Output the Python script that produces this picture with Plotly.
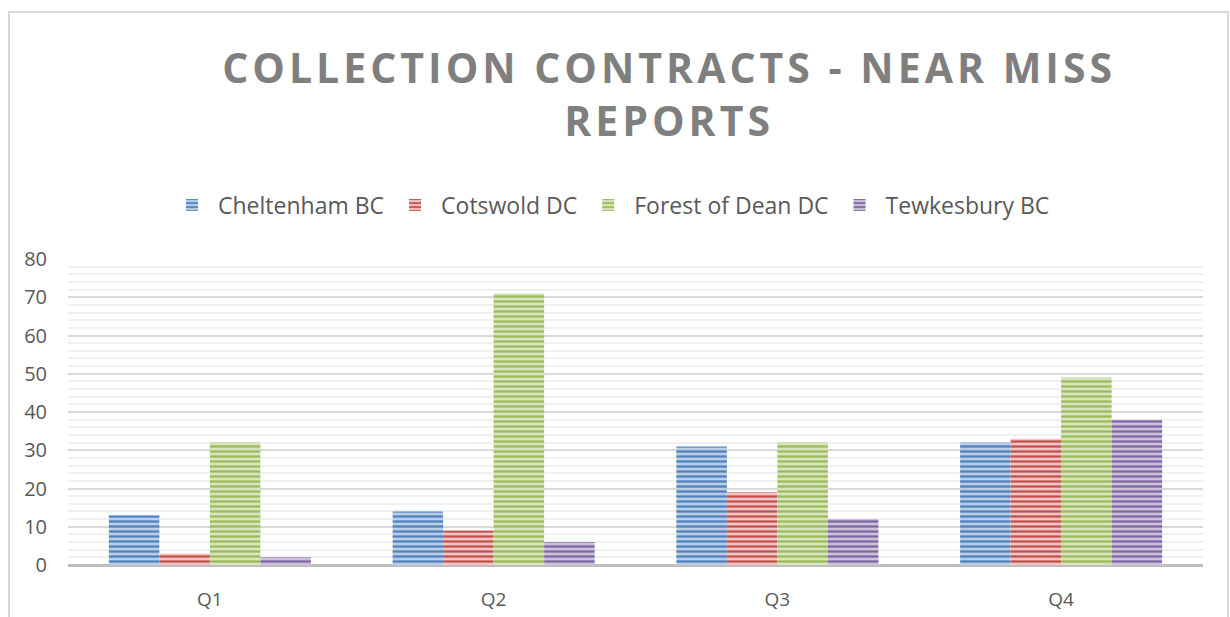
import plotly.graph_objects as go

quarters = ['Q1', 'Q2', 'Q3', 'Q4']
cheltenham = [13, 14, 31, 32]
cotswold = [3, 9, 19, 33]
forest_of_dean = [32, 71, 32, 49]
tewkesbury = [2, 6, 12, 38]

series = [
    ('Cheltenham BC', cheltenham, '#4f81bd', '#b9cde5'),
    ('Cotswold DC', cotswold, '#c0504d', '#f2c4c3'),
    ('Forest of Dean DC', forest_of_dean, '#9bbb59', '#d7e4bd'),
    ('Tewkesbury BC', tewkesbury, '#8064a2', '#ccc1da'),
]

fig = go.Figure()
for name, vals, dark, light in series:
    fig.add_trace(go.Bar(
        x=quarters, y=vals, name=name,
        marker=dict(color=light, line=dict(width=0),
                    pattern=dict(shape='-', fgcolor=dark, bgcolor=light,
                                 size=5, solidity=0.45, fillmode='replace')),
    ))

title_txt = ('<span style="letter-spacing:4px">COLLECTION CONTRACTS - NEAR MISS</span><br>'
             '<span style="letter-spacing:4px">REPORTS</span>')

fig.update_layout(
    width=1230, height=617,
    paper_bgcolor='white', plot_bgcolor='white',
    margin=dict(l=68, r=27, t=259, b=52, autoexpand=False),
    barmode='group', bargap=0.288, bargroupgap=0,
    title=dict(text=title_txt, automargin=False,
               x=0.544, xanchor='center', y=0.866, yanchor='top',
               font=dict(family='Open Sans', size=41, color='#7f7f7f', weight='bold')),
    legend=dict(orientation='h', x=0.478, xanchor='center', y=1.176, yanchor='middle',
                font=dict(family='Open Sans', size=23, color='#595959'),
                itemwidth=42, traceorder='normal'),
    font=dict(family='Open Sans', color='#595959'),
    xaxis=dict(showgrid=False, ticks='', tickfont=dict(size=19, color='#595959'),
               showline=False, automargin=False, ticklabelstandoff=21),
    yaxis=dict(range=[0, 80], dtick=10, showgrid=True, gridcolor='#d9d9d9', gridwidth=2,
               tickfont=dict(size=20, color='#595959'), zeroline=True, automargin=False,
               zerolinecolor='#bfbfbf', zerolinewidth=3, ticklabelstandoff=20,
               minor=dict(dtick=2, showgrid=True, gridcolor='#f0f0f0', gridwidth=2)),
    shapes=[dict(type='rect', xref='paper', yref='paper', x0=-0.052, x1=1.022,
                 y0=-0.3, y1=1.807, line=dict(color='#d9d9d9', width=2), layer='below')],
)

fig.write_html('out.html', config={'displayModeBar': False},
               post_script="document.body.style.margin='0px';")
